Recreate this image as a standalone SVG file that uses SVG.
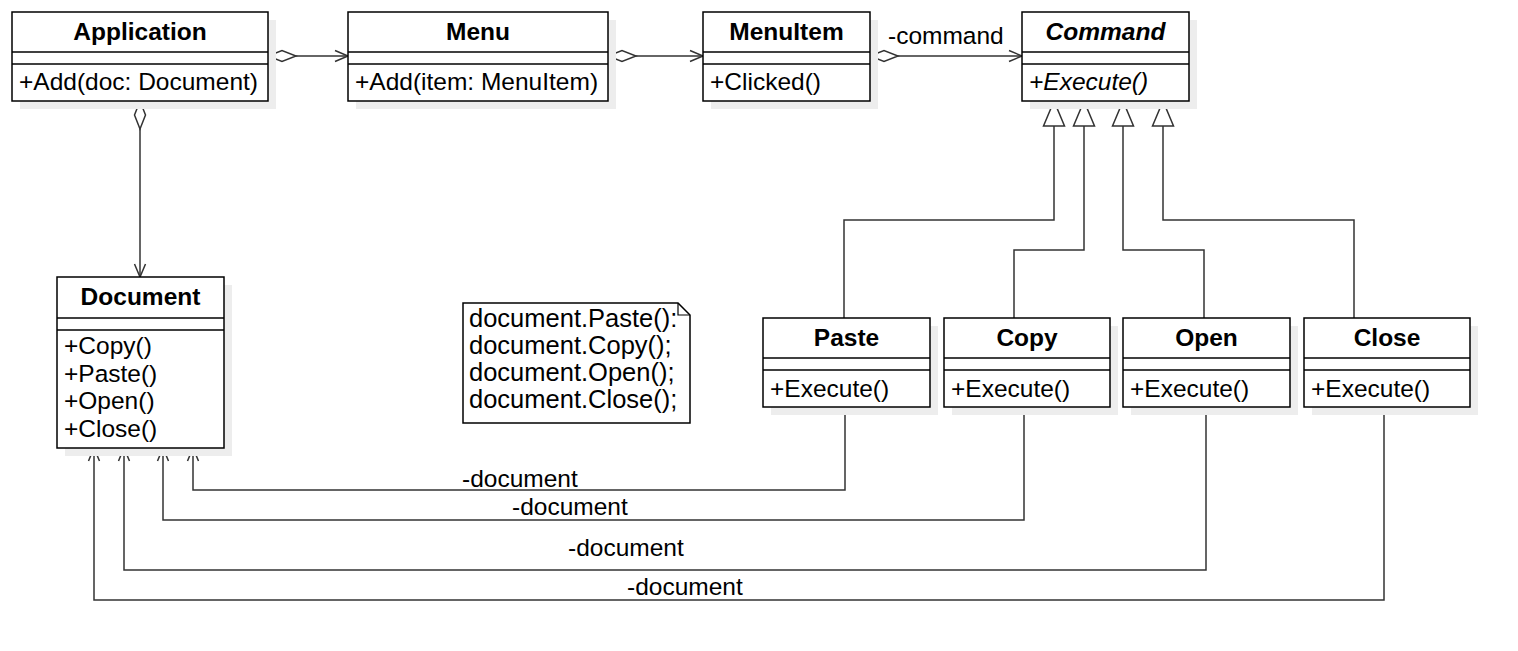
<svg xmlns="http://www.w3.org/2000/svg" width="1518" height="651" viewBox="0 0 1518 651">
<style>
.box{fill:#fff;stroke:#000;stroke-width:1.5}
.sh{fill:#ededed}
.dv{stroke:#000;stroke-width:1.5}
.t{font-family:"Liberation Sans",Arial,sans-serif;font-size:24.5px;fill:#000}
.n{font-size:25.5px}
.b{font-weight:bold}
.i{font-style:italic}
.c{text-anchor:middle}
.ln{fill:none;stroke:#333;stroke-width:1.5}
.hd{stroke:#333;stroke-width:1.5}
</style>
<defs>
<path id="ah" class="hd" d="M-13,-5.5 L0,0 L-13,5.5" fill="none"/>
<path id="dm" class="hd" d="M0,0 L14,-5.5 L28,0 L14,5.5 Z" fill="#fff"/>
<path id="tr" class="hd" d="M0,0 L-25,-10.5 L-25,10.5 Z" fill="#fff"/>
</defs>
<rect width="1518" height="651" fill="#fff"/>

<g id="connectors">
<path class="ln" d="M268,56 H348"/>
<path class="ln" d="M608,56 H703"/>
<path class="ln" d="M870,56 H1022"/>
<path class="ln" d="M140,101 V277"/>
<path class="ln" d="M844,318 V220 H1054 V101"/>
<path class="ln" d="M1014,318 V250 H1084 V101"/>
<path class="ln" d="M1204,318 V250 H1123 V101"/>
<path class="ln" d="M1354,318 V220 H1163 V101"/>
<path class="ln" d="M845,407 V490 H193 V448"/>
<path class="ln" d="M1024,407 V520 H163 V448"/>
<path class="ln" d="M1206,407 V570 H124 V448"/>
<path class="ln" d="M1384,407 V600 H94 V448"/>
<use href="#dm" transform="translate(268,56)"/>
<use href="#dm" transform="translate(608,56)"/>
<use href="#dm" transform="translate(870,56)"/>
<use href="#dm" transform="translate(140,101) rotate(90)"/>
<use href="#ah" transform="translate(348,56)"/>
<use href="#ah" transform="translate(703,56)"/>
<use href="#ah" transform="translate(1022,56)"/>
<use href="#ah" transform="translate(140,277) rotate(90)"/>
<use href="#tr" transform="translate(1054,101) rotate(-90)"/>
<use href="#tr" transform="translate(1084,101) rotate(-90)"/>
<use href="#tr" transform="translate(1123,101) rotate(-90)"/>
<use href="#tr" transform="translate(1163,101) rotate(-90)"/>
<use href="#ah" transform="translate(193,448) rotate(-90)"/>
<use href="#ah" transform="translate(163,448) rotate(-90)"/>
<use href="#ah" transform="translate(124,448) rotate(-90)"/>
<use href="#ah" transform="translate(94,448) rotate(-90)"/>
<text class="t" x="888" y="44">-command</text>
<text class="t" x="462" y="487">-document</text>
<text class="t" x="512" y="515">-document</text>
<text class="t" x="568" y="556">-document</text>
<text class="t" x="627" y="595">-document</text>
</g>

<g id="Application">
<rect class="sh" x="20" y="20" width="256" height="89"/>
<rect class="box" x="12" y="12" width="256" height="89"/>
<line class="dv" x1="12" y1="52" x2="268" y2="52"/>
<line class="dv" x1="12" y1="64" x2="268" y2="64"/>
<text class="t b c" x="140" y="40">Application</text>
<text class="t" x="19" y="90">+Add(doc: Document)</text>
</g>

<g id="Menu">
<rect class="sh" x="356" y="20" width="260" height="89"/>
<rect class="box" x="348" y="12" width="260" height="89"/>
<line class="dv" x1="348" y1="52" x2="608" y2="52"/>
<line class="dv" x1="348" y1="64" x2="608" y2="64"/>
<text class="t b c" x="478" y="40">Menu</text>
<text class="t" x="355" y="90">+Add(item: MenuItem)</text>
</g>

<g id="MenuItem">
<rect class="sh" x="711" y="20" width="167" height="89"/>
<rect class="box" x="703" y="12" width="167" height="89"/>
<line class="dv" x1="703" y1="52" x2="870" y2="52"/>
<line class="dv" x1="703" y1="64" x2="870" y2="64"/>
<text class="t b c" x="786.5" y="40">MenuItem</text>
<text class="t" x="710" y="90">+Clicked()</text>
</g>

<g id="Command">
<rect class="sh" x="1030" y="20" width="167" height="89"/>
<rect class="box" x="1022" y="12" width="167" height="89"/>
<line class="dv" x1="1022" y1="52" x2="1189" y2="52"/>
<line class="dv" x1="1022" y1="64" x2="1189" y2="64"/>
<text class="t b i c" x="1105.5" y="40">Command</text>
<text class="t i" x="1029" y="90">+Execute()</text>
</g>

<g id="Document">
<rect class="sh" x="65" y="285" width="167" height="171"/>
<rect class="box" x="57" y="277" width="167" height="171"/>
<line class="dv" x1="57" y1="318" x2="224" y2="318"/>
<line class="dv" x1="57" y1="330" x2="224" y2="330"/>
<text class="t b c" x="140.5" y="305">Document</text>
<text class="t" x="64" y="354">+Copy()</text>
<text class="t" x="64" y="381.5">+Paste()</text>
<text class="t" x="64" y="409">+Open()</text>
<text class="t" x="64" y="436.5">+Close()</text>
</g>

<g id="Note">
<path class="box" d="M463,303 H678 L690,315 V423 H463 Z"/>
<path d="M678,303 V315 H690" fill="none" stroke="#000" stroke-width="1.2"/>
<text class="t n" x="469" y="327">document.Paste():</text>
<text class="t n" x="469" y="354">document.Copy();</text>
<text class="t n" x="469" y="381">document.Open();</text>
<text class="t n" x="469" y="408">document.Close();</text>
</g>

<g id="Paste">
<rect class="sh" x="771" y="326" width="167" height="89"/>
<rect class="box" x="763" y="318" width="167" height="89"/>
<line class="dv" x1="763" y1="358" x2="930" y2="358"/>
<line class="dv" x1="763" y1="370" x2="930" y2="370"/>
<text class="t b c" x="846.5" y="346">Paste</text>
<text class="t" x="770" y="397">+Execute()</text>
</g>

<g id="Copy">
<rect class="sh" x="952" y="326" width="166" height="89"/>
<rect class="box" x="944" y="318" width="166" height="89"/>
<line class="dv" x1="944" y1="358" x2="1110" y2="358"/>
<line class="dv" x1="944" y1="370" x2="1110" y2="370"/>
<text class="t b c" x="1027" y="346">Copy</text>
<text class="t" x="951" y="397">+Execute()</text>
</g>

<g id="Open">
<rect class="sh" x="1131" y="326" width="167" height="89"/>
<rect class="box" x="1123" y="318" width="167" height="89"/>
<line class="dv" x1="1123" y1="358" x2="1290" y2="358"/>
<line class="dv" x1="1123" y1="370" x2="1290" y2="370"/>
<text class="t b c" x="1206.5" y="346">Open</text>
<text class="t" x="1130" y="397">+Execute()</text>
</g>

<g id="Close">
<rect class="sh" x="1312" y="326" width="166" height="89"/>
<rect class="box" x="1304" y="318" width="166" height="89"/>
<line class="dv" x1="1304" y1="358" x2="1470" y2="358"/>
<line class="dv" x1="1304" y1="370" x2="1470" y2="370"/>
<text class="t b c" x="1387" y="346">Close</text>
<text class="t" x="1311" y="397">+Execute()</text>
</g>
</svg>
